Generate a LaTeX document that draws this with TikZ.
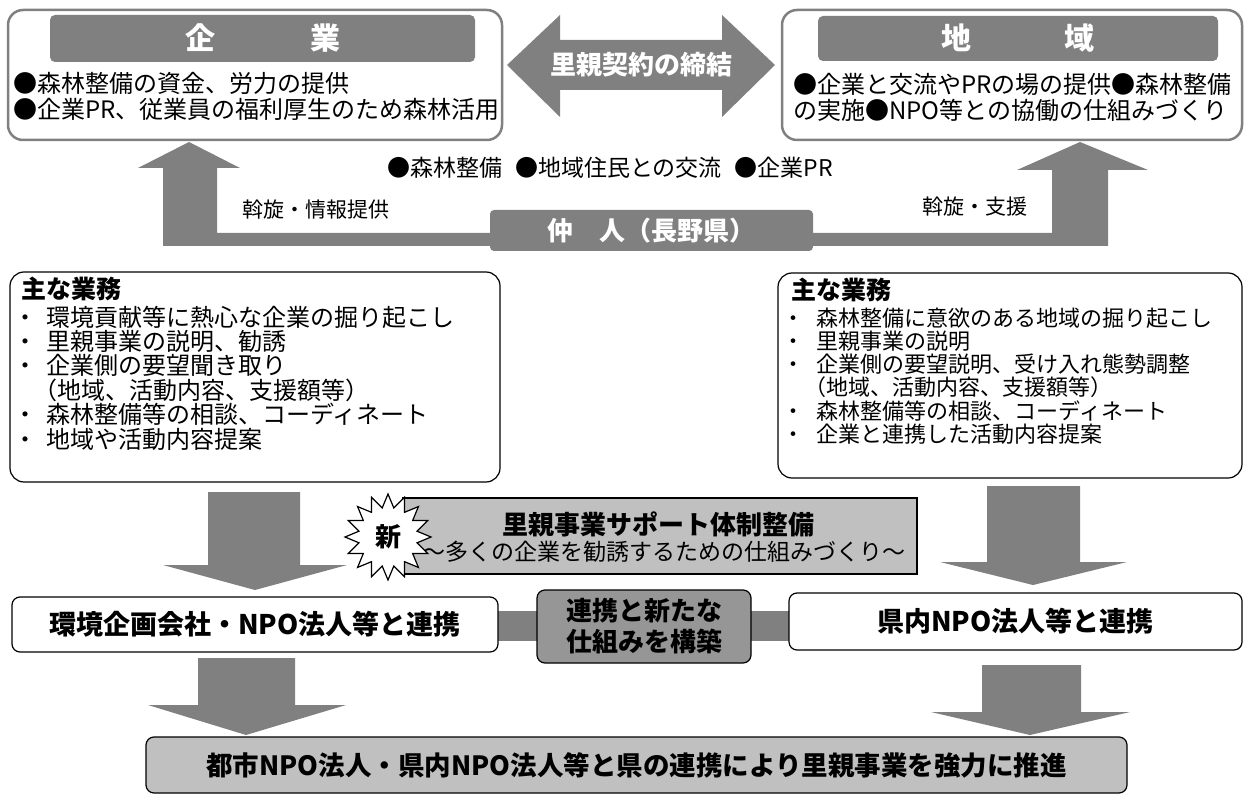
\documentclass[tikz,border=0pt]{standalone}
\usepackage{fontspec}
\setmainfont{Noto Sans CJK JP}
\usetikzlibrary{shapes.geometric}
\definecolor{dg}{HTML}{808080}
\definecolor{lg}{HTML}{C0C0C0}
\definecolor{mg}{HTML}{969696}
\newcommand\fsz[2]{\fontsize{#1}{#2}\selectfont}
\newcommand\itmL[1]{\makebox[33pt][l]{・}#1}
\newcommand\itmR[1]{\makebox[35pt][l]{・}#1}
\tikzset{
  every node/.style={inner sep=0pt, outer sep=0pt},
  outerbox/.style={draw=dg, line width=2.5pt, rounded corners=15pt, fill=white},
  headbox/.style={fill=dg, rounded corners=5pt, text=white, font=\fsz{30}{30}\bfseries},
  listbox/.style={draw=black, line width=1.2pt, rounded corners=14pt, fill=white},
  rowbox/.style={draw=black, line width=1.2pt, rounded corners=8pt, fill=white, font=\fsz{27}{27}\bfseries},
  bodytxt/.style={font=\fsz{24}{26}, align=left},
  smalltxt/.style={font=\fsz{21}{21}},
  titletxt/.style={font=\fsz{25}{25}\bfseries},
}
\begin{document}
\begin{tikzpicture}[x=1pt,y=-1pt]
\useasboundingbox[fill=white] (0,0) rectangle (1244,794);

% ---------- top boxes ----------
\node[outerbox, minimum width=494, minimum height=130] (kigyo) at (255,75) {};
\node[headbox, minimum width=425, minimum height=47] (kigyoH) at (262.5,38.5) {企\hspace{95pt}業};
\node[bodytxt, anchor=west] (kigyoT) at (13,96) {●森林整備の資金、労力の提供\\●企業PR、従業員の福利厚生のため森林活用};

\node[outerbox, minimum width=460, minimum height=130] (chiiki) at (1012,75) {};
\node[headbox, minimum width=400, minimum height=45] (chiikiH) at (1018,38.5) {地\hspace{93pt}域};
\node[bodytxt, anchor=west] (chiikiT) at (793,97) {●企業と交流やPRの場の提供●森林整備\\の実施●NPO等との協働の仕組みづくり};

% ---------- double arrow ----------
\fill[dg] (507,65) -- (560,15) -- (560,40) -- (722,40) -- (722,15) -- (775,65)
  -- (722,117) -- (722,90) -- (560,90) -- (560,117) -- cycle;
\node[text=white, font=\fsz{26}{26}\bfseries] (keiyaku) at (641,65) {里親契約の締結};

\node[font=\fsz{23}{23}] (merit) at (610,168) {●森林整備\hspace{13pt}●地域住民との交流\hspace{13pt}●企業PR};

% ---------- L arrows ----------
\fill[dg] (189,142) -- (240,168) -- (217,168) -- (217,233) -- (490,233) -- (490,246)
  -- (163,246) -- (163,168) -- (138,168) -- cycle;
\fill[dg] (1080,142) -- (1148,170) -- (1108,170) -- (1108,246) -- (813,246) -- (813,233)
  -- (1052,233) -- (1052,170) -- (1017,170) -- cycle;

\node[fill=dg, rounded corners=4pt, minimum width=323, minimum height=41, text=white,
  font=\fsz{26}{26}\bfseries] (nakodo) at (651.5,230.5) {仲　人（長野県）};

\node[smalltxt] (lblL) at (316,210) {斡旋・情報提供};
\node[smalltxt] (lblR) at (975,207) {斡旋・支援};

% ---------- duty boxes ----------
\node[listbox, minimum width=490, minimum height=210] (dutyL) at (255,377) {};
\node[titletxt, anchor=west] (dutyLT) at (21,289) {主な業務};
\node[font=\fsz{24}{24.4}, align=left, anchor=west] (dutyLL) at (13,378) {\itmL{環境貢献等に熱心な企業の掘り起こし}\\
\itmL{里親事業の説明、勧誘}\\
\itmL{企業側の要望聞き取り}\\
\hspace{20pt}（地域、活動内容、支援額等）\\
\itmL{森林整備等の相談、コーディネート}\\
\itmL{地域や活動内容提案}};

\node[listbox, minimum width=464, minimum height=205] (dutyR) at (1010,375.5) {};
\node[titletxt, anchor=west] (dutyRT) at (791,290) {主な業務};
\node[font=\fsz{22}{23.2}, align=left, anchor=west] (dutyRL) at (782,376) {\itmR{森林整備に意欲のある地域の掘り起こし}\\
\itmR{里親事業の説明}\\
\itmR{企業側の要望説明、受け入れ態勢調整}\\
\hspace{22pt}（地域、活動内容、支援額等）\\
\itmR{森林整備等の相談、コーディネート}\\
\itmR{企業と連携した活動内容提案}};

% ---------- middle down arrows ----------
\fill[dg] (208,492) -- (300,492) -- (300,565) -- (347,565) -- (255,590) -- (163,565) -- (208,565) -- cycle;
\fill[dg] (987,486) -- (1080,486) -- (1080,562) -- (1127,562) -- (1033,585) -- (940,562) -- (987,562) -- cycle;

% ---------- support box + starburst ----------
\node[draw=black, line width=1.2pt, fill=lg, minimum width=514, minimum height=76] (support) at (660,536) {};
\node[font=\fsz{26}{26}\bfseries] (supportT1) at (658,524) {里親事業サポート体制整備};
\node[font=\fsz{23}{23}] (supportT2) at (664,552) {～多くの企業を勧誘するための仕組みづくり～};
\node[star, star points=16, star point ratio=1.45, minimum size=86pt, draw=black,
  line width=1.2pt, fill=white] (shin) at (388,537) {};
\node[font=\fsz{26}{26}\bfseries] (shinT) at (shin.center) {新};

% ---------- lower row ----------
\fill[dg] (498,611) rectangle (537,641);
\fill[dg] (751,611) rectangle (789,641);
\node[rowbox, minimum width=486, minimum height=55] (leftrow) at (255,624.5) {環境企画会社・NPO法人等と連携};
\node[rowbox, fill=mg, minimum width=214, minimum height=73, align=center,
  font=\fsz{26}{31}\bfseries] (mid) at (644,626.5) {連携と新たな\\仕組みを構築};
\node[rowbox, minimum width=453, minimum height=57] (rightrow) at (1015.5,621.5) {県内NPO法人等と連携};

% ---------- lower down arrows ----------
\fill[dg] (198,658) -- (295,658) -- (295,705) -- (346,705) -- (246,735) -- (148,705) -- (198,705) -- cycle;
\fill[dg] (982,665) -- (1081,665) -- (1081,712) -- (1130,712) -- (1030,735) -- (931,712) -- (982,712) -- cycle;

% ---------- bottom box ----------
\node[rowbox, fill=lg, minimum width=981, minimum height=56, font=\fsz{26.5}{26.5}\bfseries] (final) at (636.5,765)
  {都市NPO法人・県内NPO法人等と県の連携により里親事業を強力に推進};
\end{tikzpicture}
\end{document}
